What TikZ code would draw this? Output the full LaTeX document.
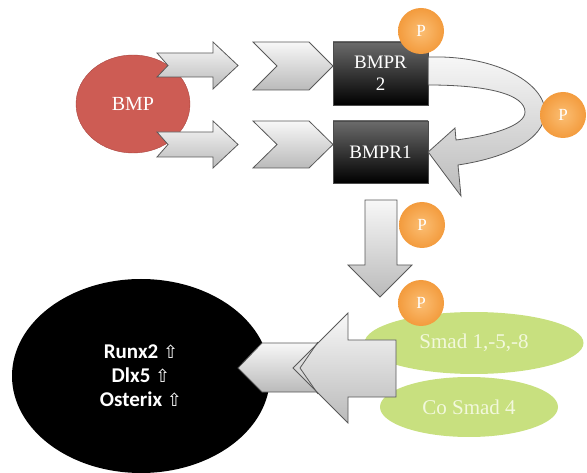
\documentclass[tikz,border=0pt]{standalone}
\usepackage{fontspec}
\setmainfont{Liberation Serif}
\newfontfamily\carl{Carlito}
\newfontfamily\djv{DejaVu Sans}
\usetikzlibrary{shapes.geometric}
\definecolor{bmpred}{RGB}{205,92,84}
\definecolor{bmpedge}{RGB}{170,70,64}
\definecolor{pin}{RGB}{251,190,115}
\definecolor{pout}{RGB}{243,155,61}
\definecolor{smadgreen}{RGB}{200,224,127}
\definecolor{smadtext}{RGB}{242,248,220}
\tikzset{
  garrow/.style={draw=black!65, line width=0.8pt, top color=black!3, bottom color=black!27},
  rbox/.style={rectangle, draw=black!70, top color=black!58, bottom color=black, text=white,
    font=\fontsize{19}{22}\selectfont, minimum width=95pt, inner sep=0pt, align=center},
  pcirc/.style={circle, minimum size=46pt, inner sep=0pt, inner color=pin, outer color=pout,
    text=white, font=\fontsize{17}{18}\selectfont},
  smad/.style={ellipse, fill=smadgreen, inner sep=0pt, text=smadtext, font=\fontsize{21}{22}\selectfont},
  uparr/.style={font=\djv\fontsize{18}{23}\selectfont}
}
\newcommand{\upmark}{{\djv\mdseries\fontsize{18}{23}\selectfont ⇧}}
\begin{document}
\begin{tikzpicture}[x=1pt,y=-1pt]
\useasboundingbox (0,0) rectangle (587,473);

% BMP ligand
\node[ellipse, fill=bmpred, draw=bmpedge, minimum width=114pt, minimum height=98pt, inner sep=0pt,
      text=white, font=\fontsize{20}{22}\selectfont] (bmp) at (133,104) {BMP};

% block arrows from BMP
\path[garrow] (157,53) -- (213,53) -- (213,42) -- (238,65.5) -- (213,89) -- (213,77) -- (157,77) -- (168,65.5) -- cycle;
\path[garrow] (157,132) -- (213,132) -- (213,121) -- (238,144.5) -- (213,168) -- (213,157) -- (157,157) -- (168,144.5) -- cycle;

% chevrons
\path[garrow] (253,42) -- (309,42) -- (333,66) -- (309,90) -- (253,90) -- (277,66) -- cycle;
\path[garrow] (253,121) -- (309,121) -- (333,144.5) -- (309,168) -- (253,168) -- (277,144.5) -- cycle;

% receptors
\node[rbox, minimum height=63pt] (r2) at (380.5,73.5) {BMPR\\2};
\node[rbox, minimum height=62pt] (r1) at (380.5,152) {BMPR1};

% curved arrow from BMPR2 to BMPR1
\path[garrow] (r2.north east |- 0,57) .. controls (500,55) and (545,85) .. (545,112)
  .. controls (545,140) and (505,158) .. (458,165) -- (461,196) -- (r1.east) -- (455,128) -- (456,140)
  .. controls (495,135) and (525,125) .. (525,112) .. controls (525,95) and (490,85) .. (r2.north east |- 0,85) -- cycle;

% phosphates
\node[pcirc] (p1) at (421,31) {P};
\node[pcirc] (p2) at (563,115) {P};

% down arrow
\path[garrow] (365,200) -- (397,200) -- (397,265) -- (412,265) -- (380,297) -- (348,265) -- (365,265) -- cycle;
\node[pcirc] (p3) at (422,225) {P};

% Smads
\node[smad, minimum width=178pt, minimum height=60pt] (cosmad) at (469,407) {Co Smad 4};
\node[smad, minimum width=219pt, minimum height=62pt] (smad) at (474,343) {Smad 1,-5,-8};
\node[pcirc] (p4) at (421,303) {P};

% nucleus / target genes
\node[ellipse, fill=black, minimum width=258pt, minimum height=194pt, inner sep=0pt,
      text=white, align=center, font=\carl\bfseries\fontsize{21}{24}\selectfont] (nuc) at (141,376)
      {Runx2 \upmark\\Dlx5 \upmark\\Osterix \upmark};

% arrows into the nucleus
\path[garrow] (238,368) -- (262,343) -- (320,343) -- (320,392) -- (262,392) -- cycle;
\path[garrow] (293,368) -- (348,313) -- (348,340) -- (396,340) -- (396,397) -- (348,397) -- (348,423) -- cycle;
\draw[black!65, line width=0.8pt] (318,342) -- (300,368) -- (318,394);
\end{tikzpicture}
\end{document}
